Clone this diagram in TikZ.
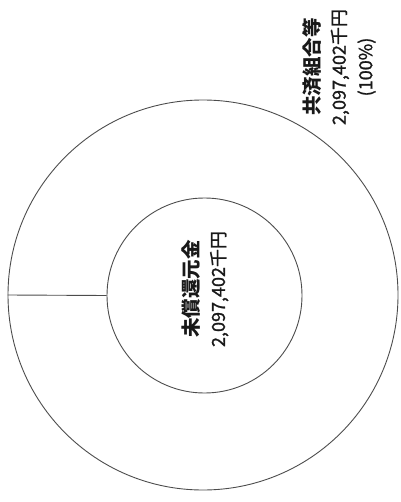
\documentclass[tikz,border=0pt]{standalone}
\usepackage{fontspec}
\newfontfamily\cjk[FakeBold=1.3]{Noto Sans CJK JP}
\newfontfamily\cjkhead{Noto Sans CJK JP}
\newcommand\headtxt[1]{{\cjkhead\bfseries\fontsize{19.5}{26.5}\selectfont #1}}
\begin{document}
\begin{tikzpicture}[x=1pt,y=-1pt,
  ring/.style={draw=black!70,line width=0.9pt},
  lbl/.style={font=\cjk\fontsize{18}{26.5}\selectfont,rotate=90,align=center,inner sep=0pt,text=black!90}]
\useasboundingbox (0,0) rectangle (400,502);
\node[ring,circle,minimum size=390pt,inner sep=0pt] (outer) at (203,295) {};
\node[ring,circle,minimum size=195pt,inner sep=0pt] (inner) at (204.5,295.5) {};
\draw[ring] (outer.west) -- (inner.west);
\node[lbl] (innerlbl) at (205,289) {\headtxt{未償還元金}\\2,097,402千円};
\node[lbl] (outerlbl) at (339,67) {\headtxt{共済組合等}\\2,097,402千円\\(100\%)};
\end{tikzpicture}
\end{document}
